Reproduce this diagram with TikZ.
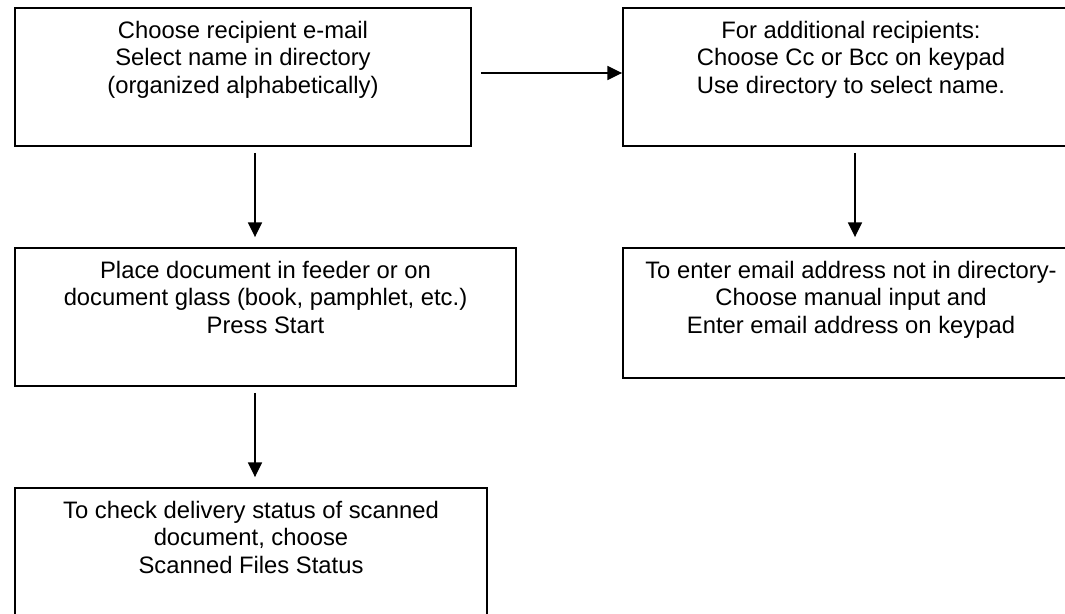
\documentclass[tikz,border=0pt]{standalone}
\usepackage{fontspec}
\setmainfont{Liberation Sans}
\usetikzlibrary{arrows.meta}

\tikzset{
  box/.style={draw, line width=1.4pt, rectangle, inner sep=0pt, minimum width=342pt, minimum height=103.5pt},
  txt/.style={anchor=north, inner sep=0pt, align=center, font=\fontsize{17.85}{20.6}\selectfont, execute at begin node={\strut}},
  arr/.style={line width=1.1pt, -{Triangle[length=11pt,width=10.5pt]}}
}

\begin{document}
\begin{tikzpicture}[x=0.75pt,y=0.75pt]
		\path[use as bounding box, fill=white] (0,0) rectangle (1065,-614);
		
		\node[box] (b1) at (243,-77) {};
		\node[box] (b2) at (851,-77) {};
		\node[box, minimum width=375.75pt] (b3) at (265.5,-317) {};
		\node[box, minimum height=97.5pt] (b4) at (851,-313) {};
		\node[box, minimum width=354pt] (b5) at (251,-557) {};
		
		\node[txt] (t1) at ([yshift=-10.2pt]b1.north) {Choose recipient e-mail\\Select name in directory\\(organized alphabetically)};
		\node[txt] (t2) at ([yshift=-10.2pt]b2.north) {For additional recipients:\\Choose Cc or Bcc on keypad\\Use directory to select name.};
		\node[txt] (t3) at ([yshift=-10.2pt]b3.north) {Place document in feeder or on\\document glass (book, pamphlet, etc.)\\Press Start};
		\node[txt] (t4) at ([yshift=-10.2pt]b4.north) {To enter email address not in directory-\\Choose manual input and\\Enter email address on keypad};
		\node[txt] (t5) at ([yshift=-10.2pt]b5.north) {To check delivery status of scanned\\document, choose\\Scanned Files Status};
		
		\coordinate (xl) at (255,0);
		\coordinate (xr) at (855,0);
		\coordinate (ha) at (0,-73);
		
		\draw[arr, shorten <=6.75pt] (b1.east |- ha) -- (b2.west |- ha);
		\draw[arr, shorten <=4.5pt, shorten >=7.5pt] (b1.south -| xl) -- (b3.north -| xl);
		\draw[arr, shorten <=4.5pt, shorten >=7.5pt] (b3.south -| xl) -- (b5.north -| xl);
		\draw[arr, shorten <=4.5pt, shorten >=7.5pt] (b2.south -| xr) -- (b4.north -| xr);
	\end{tikzpicture}
\end{document}
